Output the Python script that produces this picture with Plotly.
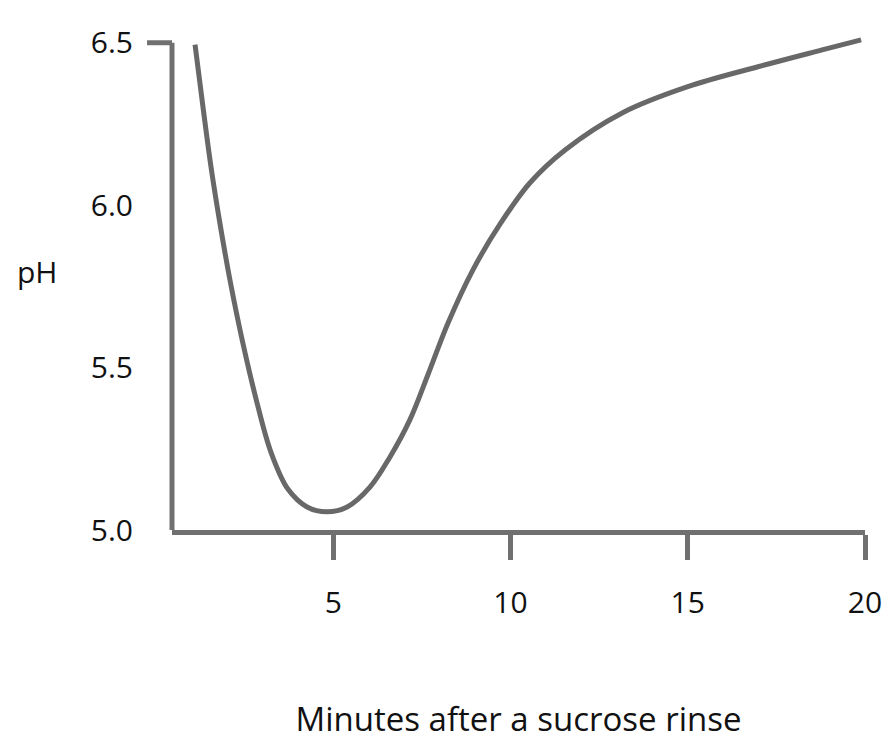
import plotly.graph_objects as go

# Data
minutes = [1.10, 1.33, 1.55, 1.81, 2.09, 2.43, 2.82, 3.24, 3.72, 4.26, 4.82,
           5.39, 6.04, 6.60, 7.16, 7.67, 8.24, 8.94, 9.73, 10.55, 11.54, 13.15,
           14.98, 16.98, 18.79, 19.89]
ph = [6.494, 6.297, 6.118, 5.939, 5.767, 5.585, 5.404, 5.240, 5.126, 5.071, 5.056,
      5.071, 5.133, 5.225, 5.339, 5.478, 5.638, 5.801, 5.946, 6.069, 6.170, 6.284,
      6.364, 6.426, 6.478, 6.509]
x_ticks = [5, 10, 15, 20]
x_tick_labels = ["5", "10", "15", "20"]
y_ticks = [5.0, 5.5, 6.0, 6.5]
y_tick_labels = ["5.0", "5.5", "6.0", "6.5"]

AXIS_COLOR = "#707070"
FONT = "'Open Sans', Lato, sans-serif"

fig = go.Figure()
fig.add_trace(go.Scatter(
    x=minutes, y=ph, mode="lines",
    line=dict(color="#686868", width=5, shape="spline", smoothing=1.0),
    hoverinfo="skip", showlegend=False,
))

# y-axis line from 5.0 to 6.5 and the long top tick
fig.add_shape(type="line", xref="x domain", yref="y", x0=0, x1=0, y0=5.0, y1=6.5,
              line=dict(color=AXIS_COLOR, width=5))
fig.add_shape(type="line", xref="x domain", yref="y", x0=-0.036, x1=0, y0=6.5, y1=6.5,
              line=dict(color=AXIS_COLOR, width=5))

fig.update_layout(
    width=894, height=744,
    margin=dict(l=164, r=37, t=25, b=222),
    paper_bgcolor="white", plot_bgcolor="white",
    font=dict(family=FONT, size=30, color="#111111"),
    xaxis=dict(
        range=[0.45, 20.0], tickvals=x_ticks, ticktext=x_tick_labels,
        showgrid=False, zeroline=False, showline=True, linecolor=AXIS_COLOR, linewidth=5,
        ticks="outside", ticklen=25, tickwidth=5, tickcolor=AXIS_COLOR,
        ticklabelstandoff=17,
        title=dict(text="Minutes after a sucrose rinse", font=dict(size=33), standoff=88),
    ),
    yaxis=dict(
        range=[5.0, 6.53], tickvals=y_ticks, ticktext=y_tick_labels,
        showgrid=False, zeroline=False, showline=False,
        ticks="", ticklabelstandoff=38,
        title=dict(text=""),
    ),
    annotations=[dict(text="pH", xref="paper", yref="paper", x=-0.226, y=0.52,
                      xanchor="left", yanchor="middle", showarrow=False,
                      font=dict(size=30, family=FONT, color="#111111"))],
)

fig.write_html("out.html")
